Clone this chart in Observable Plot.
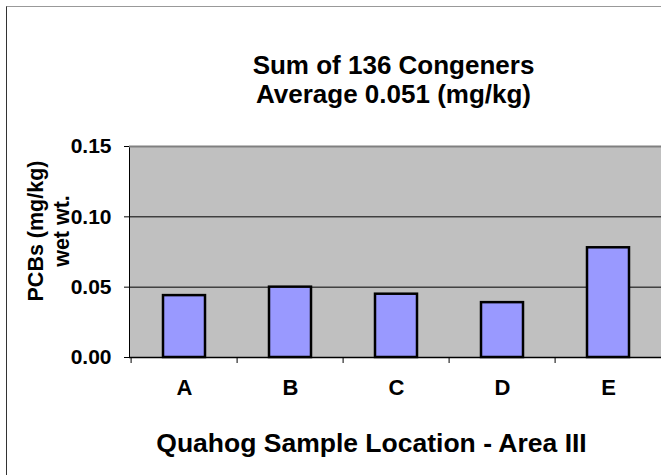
<!DOCTYPE html>
<html>
<head>
<meta charset="utf-8">
<script src="https://cdn.jsdelivr.net/npm/d3@7"></script>
<script src="https://cdn.jsdelivr.net/npm/@observablehq/plot@0.6"></script>
<style>
  html, body { margin: 0; padding: 0; background: #fff; overflow: hidden; }
  #wrap { position: relative; width: 661px; height: 475px; overflow: hidden; }
  #wrap svg { position: absolute; left: 0; top: 0; }
  #border { position: absolute; left: 6px; top: 6px; width: 700px; height: 500px;
            border-left: 1.5px solid #333; border-top: 1.5px solid #999; pointer-events: none; }
</style>
</head>
<body>
<div id="wrap"><div id="border"></div></div>
<script>
const locations = ["A", "B", "C", "D", "E"];
const pcbs = [0.044, 0.050, 0.045, 0.039, 0.078];
const yTicks = [0, 0.05, 0.10, 0.15];
const gridTicks = [0.05, 0.10];
const titleText = "Sum of 136 Congeners\nAverage 0.051 (mg/kg)";
const xTitle = "Quahog Sample Location - Area III";
const yTitle = "PCBs (mg/kg)\nwet wt.";

const data = locations.map((loc, i) => ({loc, value: pcbs[i]}));
const FONT = "'Liberation Sans', Arial, Helvetica, sans-serif";
const W = 661, H = 475, ML = 129, MR = -2;
const step = (W - MR - ML) / locations.length;

const chart = Plot.plot({
  width: W,
  height: H,
  marginLeft: ML,
  marginRight: MR,
  marginTop: 146,
  marginBottom: 118,
  style: {fontFamily: FONT, fontWeight: "bold", background: "transparent", color: "black", overflow: "visible"},
  x: {domain: locations, paddingInner: 0.6, paddingOuter: 0.3},
  y: {domain: [0, 0.15]},
  marks: [
    Plot.frame({fill: "#c0c0c0", stroke: "black"}),
    Plot.ruleY(gridTicks, {stroke: "black", strokeWidth: 1}),
    Plot.barY(data, {x: "loc", y: "value", fill: "#9999ff", stroke: "black", strokeWidth: 2.5}),
    Plot.ruleY([0.15], {stroke: "#808080", strokeWidth: 2}),
    Plot.ruleY([0], {stroke: "black", strokeWidth: 1.5}),
    Plot.axisY({ticks: yTicks, tickFormat: ".2f", tickSize: 5, tickPadding: 13, fontSize: 21, label: null}),
    Plot.axisX({tickSize: 6, tickFormat: () => "", dx: -step / 2, label: null}),
    Plot.text(locations, {x: d => d, frameAnchor: "bottom", lineAnchor: "top", textAnchor: "middle", dy: 22, fontSize: 22, fontWeight: "bold"}),
    Plot.text([titleText], {frameAnchor: "top", textAnchor: "middle", lineAnchor: "middle", dx: -3, dy: -67, fontSize: 26, lineHeight: 1.08, fontWeight: "bold"}),
    Plot.text([xTitle], {frameAnchor: "bottom", textAnchor: "middle", lineAnchor: "middle", dx: -25, dy: 86, fontSize: 26.5, fontWeight: "bold"}),
    Plot.text([yTitle], {frameAnchor: "left", textAnchor: "middle", lineAnchor: "middle", rotate: -90, dx: -82, dy: -21, fontSize: 21.5, lineHeight: 1.22, fontWeight: "bold"})
  ]
});
document.getElementById("wrap").prepend(chart);
</script>
</body>
</html>
